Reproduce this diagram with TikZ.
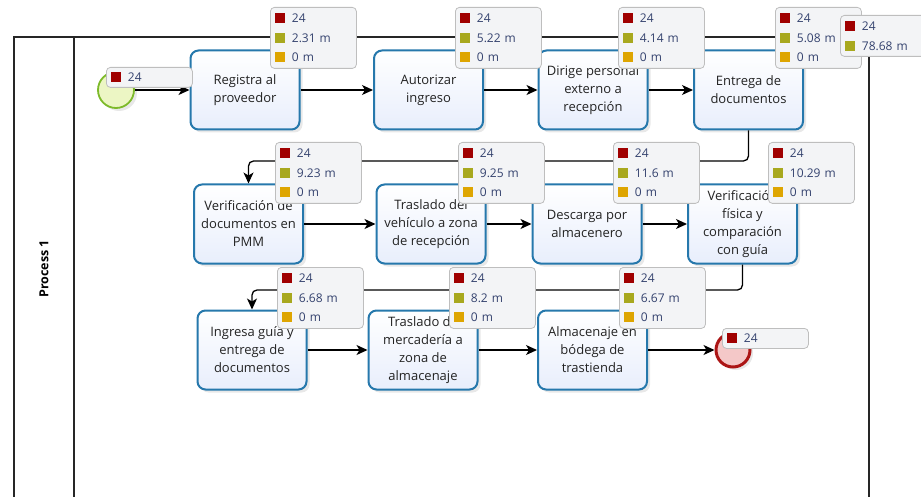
\documentclass[tikz,border=0pt]{standalone}
\usepackage{fontspec}
\setmainfont{Open Sans}
\usepackage{xcolor}
\usepackage{tikz}
\usetikzlibrary{arrows.meta,shadows}

\definecolor{taskline}{RGB}{38,120,172}
\definecolor{taskfill}{RGB}{232,238,252}
\definecolor{tasktext}{RGB}{35,35,35}
\definecolor{startline}{RGB}{125,186,42}
\definecolor{startfill}{RGB}{236,246,196}
\definecolor{endline}{RGB}{172,22,22}
\definecolor{endfill}{RGB}{244,200,200}
\definecolor{kpiline}{RGB}{190,190,190}
\definecolor{kpifill}{RGB}{243,244,246}
\definecolor{kpitext}{RGB}{52,66,110}
\definecolor{kred}{RGB}{160,0,0}
\definecolor{kolive}{RGB}{168,168,30}
\definecolor{kgold}{RGB}{222,165,0}

% coloured marker in front of each figure
\newcommand{\mk}[1]{\textcolor{#1}{\rule[-0.5pt]{10pt}{10pt}}\hspace{7pt}}

\begin{document}
\begin{tikzpicture}[x=1pt,y=1pt,yscale=-1,
  pool/.style={draw=black!85,line width=1.2pt},
  flow/.style={draw=black,line width=1.3pt,-{Stealth[length=11pt,width=10pt,inset=3pt]}},
  task/.style={draw=taskline,line width=2pt,rounded corners=8pt,minimum width=109pt,minimum height=79pt,
    align=center,top color=white,bottom color=taskfill,text=tasktext,font=\fontsize{13}{18}\selectfont,
    drop shadow={opacity=0.18,shadow xshift=3pt,shadow yshift=-3pt}},
  startev/.style={circle,draw=startline,line width=1.8pt,fill=startfill,minimum size=36pt,inner sep=0pt,
    drop shadow={opacity=0.18,shadow xshift=3pt,shadow yshift=-3pt}},
  endev/.style={circle,draw=endline,line width=3pt,fill=endfill,minimum size=34pt,inner sep=0pt,
    drop shadow={opacity=0.18,shadow xshift=3pt,shadow yshift=-3pt}},
  kpi/.style={anchor=north west,draw=kpiline,line width=0.8pt,fill=kpifill,rounded corners=4pt,
    minimum width=86pt,minimum height=61pt,align=left,text width=77pt,inner xsep=4pt,inner ysep=0pt,
    text=kpitext,font=\fontsize{12}{19.5}\selectfont}]
\useasboundingbox (0,0) rectangle (921,497);
\clip (0,0) rectangle (921,497);

%Pool and lane header
\draw[pool] (14,37) rectangle (869,520);
\draw[pool] (74,37) -- (74,520);
\node[rotate=90,font=\fontsize{12.5}{14}\bfseries\selectfont] (poolname) at (44,269) {Process 1};

%Events
\node[startev] (start) at (116,90) {};
\node[endev] (end) at (733,350) {};

%Tasks, first row
\node[task] (t1) at (245,90) {Registra al\\proveedor};
\node[task] (t2) at (428.5,90) {Autorizar\\ingreso};
\node[task] (t3) at (593,90) {Dirige personal\\externo a\\recepción};
\node[task] (t4) at (748.5,90) {Entrega de\\documentos};
%Tasks, second row
\node[task] (t5) at (248.5,224) {Verificación de\\documentos en\\PMM};
\node[task] (t6) at (431,224) {Traslado del\\vehículo a zona\\de recepción};
\node[task] (t7) at (587,224) {Descarga por\\almacenero};
\node[task] (t8) at (742.5,224) {Verificación\\física y\\comparación\\con guía};
%Tasks, third row
\node[task] (t9) at (252,350) {Ingresa guía y\\entrega de\\documentos};
\node[task] (t10) at (423,350) {Traslado de\\mercadería a\\zona de\\almacenaje};
\node[task] (t11) at (592.5,350) {Almacenaje en\\bódega de\\trastienda};

%Sequence flows
\coordinate (bendA) at (0,161);
\coordinate (bendB) at (0,290);
\draw[flow] (start) -- (t1);
\draw[flow] (t1) -- (t2);
\draw[flow] (t2) -- (t3);
\draw[flow] (t3) -- (t4);
\draw[flow,rounded corners=5pt] (t4.south) |- (t5.north |- bendA) -- (t5.north);
\draw[flow] (t5) -- (t6);
\draw[flow] (t6) -- (t7);
\draw[flow] (t7) -- (t8);
\draw[flow,rounded corners=5pt] (t8.south) |- (t9.north |- bendB) -- (t9.north);
\draw[flow] (t9) -- (t10);
\draw[flow] (t10) -- (t11);
\draw[flow] (t11) -- (end);

%Figures per element
\node[kpi,minimum height=20pt] (kstart) at (106,67) {\mk{kred}24};
\node[kpi] (k1) at (270,7) {\mk{kred}24\\\mk{kolive}2.31 m\\\mk{kgold}0 m};
\node[kpi] (k2) at (455,7) {\mk{kred}24\\\mk{kolive}5.22 m\\\mk{kgold}0 m};
\node[kpi] (k3) at (618,7) {\mk{kred}24\\\mk{kolive}4.14 m\\\mk{kgold}0 m};
\node[kpi] (k4) at (775,7) {\mk{kred}24\\\mk{kolive}5.08 m\\\mk{kgold}0 m};
\node[kpi,minimum height=41pt] (kpool) at (840,15) {\mk{kred}24\\\mk{kolive}78.68 m};
\node[kpi] (k5) at (275,142) {\mk{kred}24\\\mk{kolive}9.23 m\\\mk{kgold}0 m};
\node[kpi] (k6) at (458,142) {\mk{kred}24\\\mk{kolive}9.25 m\\\mk{kgold}0 m};
\node[kpi] (k7) at (613,142) {\mk{kred}24\\\mk{kolive}11.6 m\\\mk{kgold}0 m};
\node[kpi] (k8) at (768,142) {\mk{kred}24\\\mk{kolive}10.29 m\\\mk{kgold}0 m};
\node[kpi] (k9) at (277,267) {\mk{kred}24\\\mk{kolive}6.68 m\\\mk{kgold}0 m};
\node[kpi] (k10) at (449,267) {\mk{kred}24\\\mk{kolive}8.2 m\\\mk{kgold}0 m};
\node[kpi] (k11) at (619,267) {\mk{kred}24\\\mk{kolive}6.67 m\\\mk{kgold}0 m};
\node[kpi,minimum height=20pt] (kend) at (722,328) {\mk{kred}24};
\end{tikzpicture}
\end{document}
